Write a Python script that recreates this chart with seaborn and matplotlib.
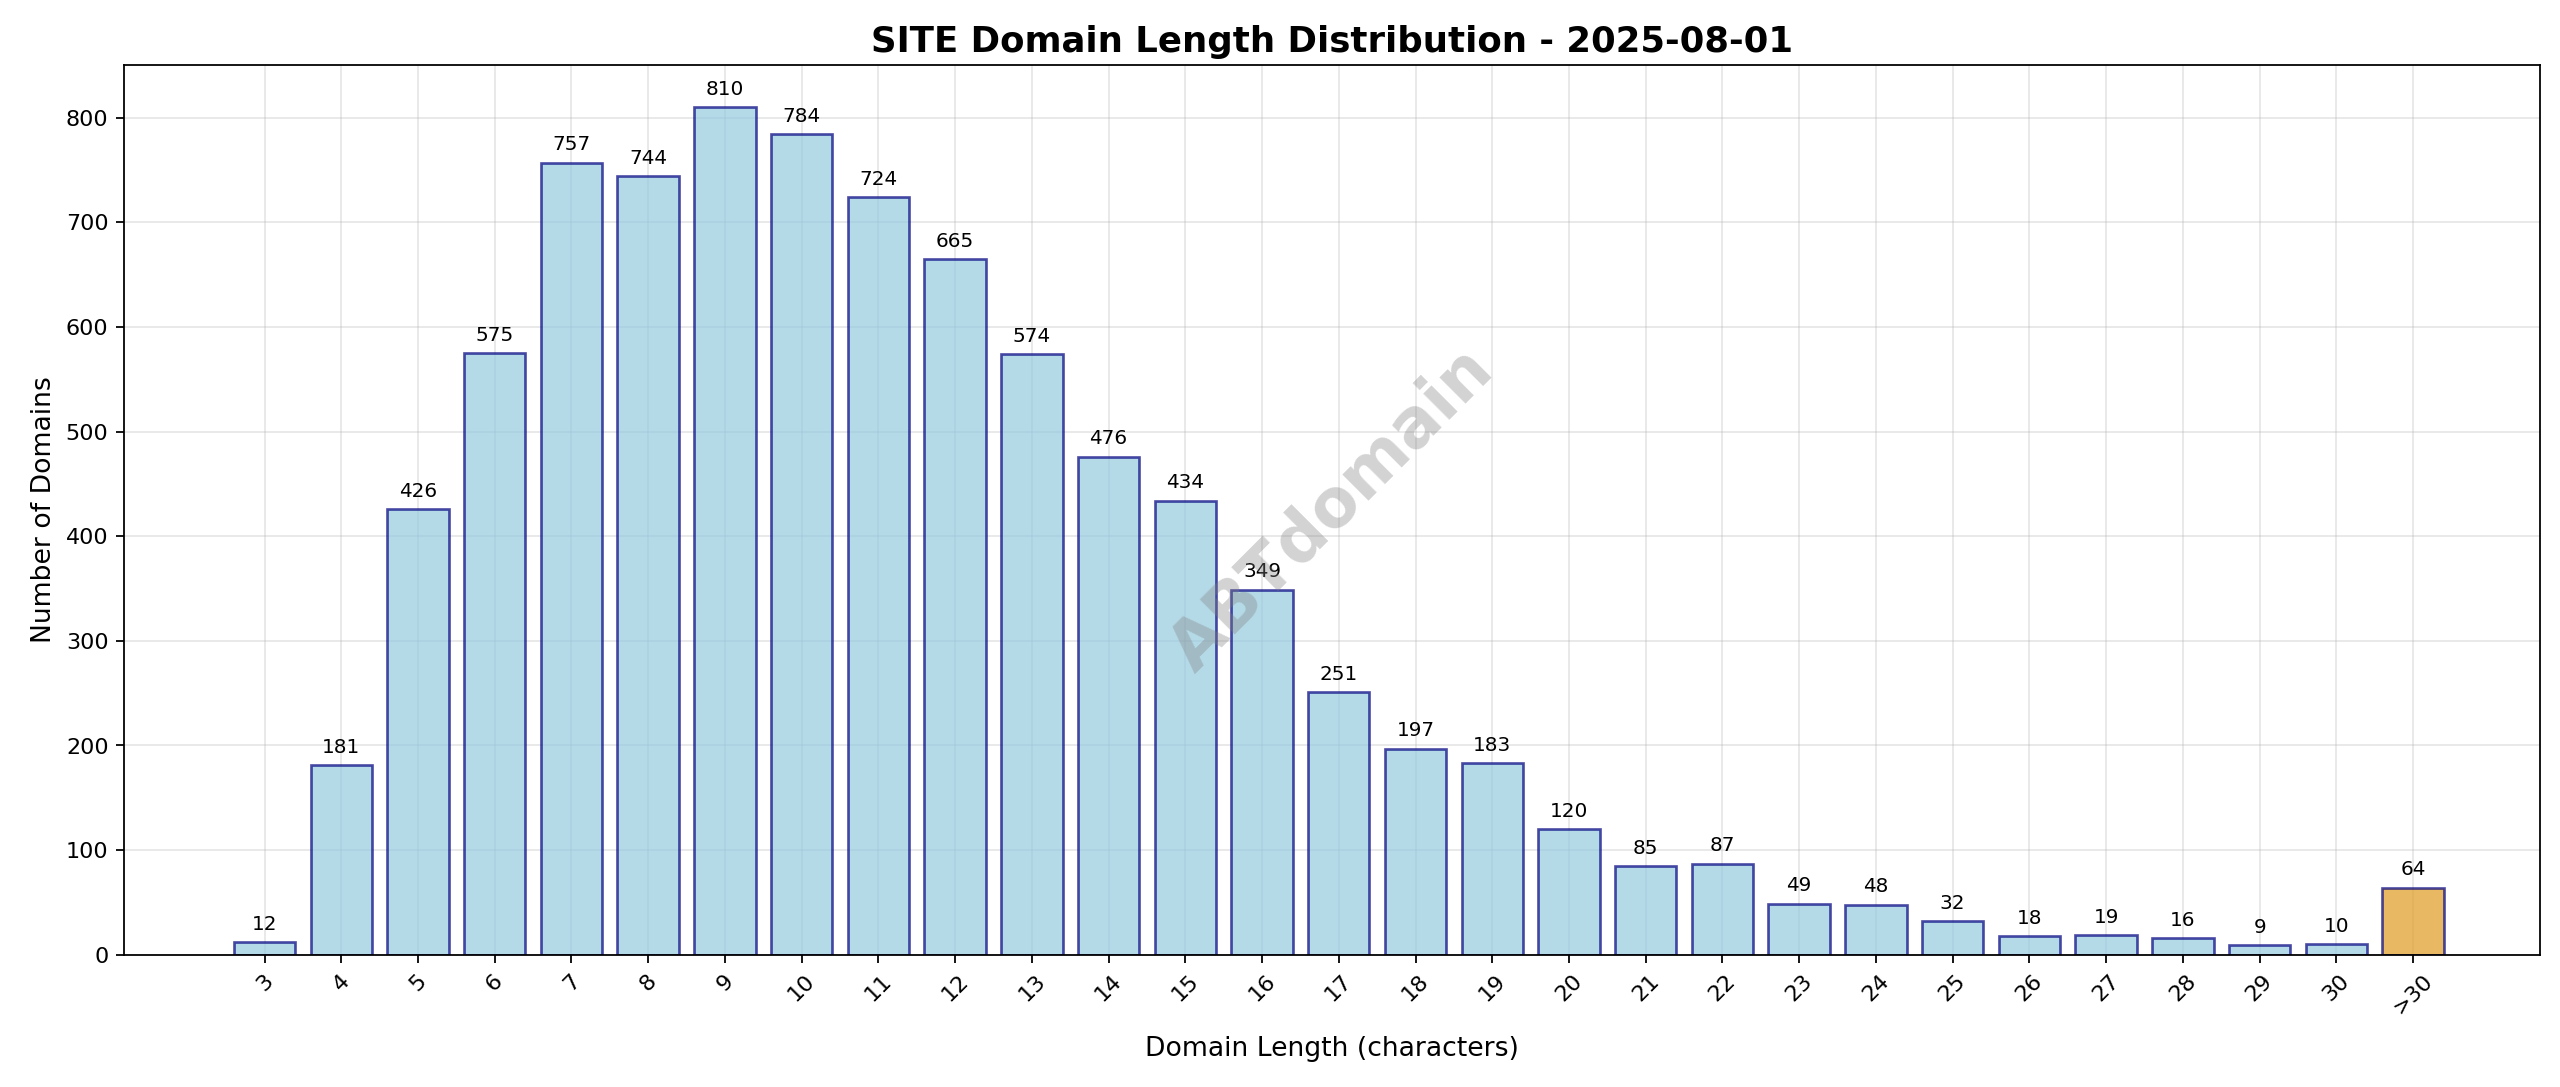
import matplotlib
matplotlib.use("Agg")
import matplotlib.pyplot as plt
import seaborn as sns
import pandas as pd

lengths = [str(i) for i in range(3, 31)] + [">30"]
counts = [12, 181, 426, 575, 757, 744, 810, 784, 724, 665, 574, 476, 434, 349,
          251, 197, 183, 120, 85, 87, 49, 48, 32, 18, 19, 16, 9, 10, 64]

df = pd.DataFrame({"length": lengths, "count": counts})
colors = ["skyblue"] * (len(lengths) - 1) + ["orange"]

W, H = 1568, 666  # layout measured in reference display units
fig = plt.figure(figsize=(16, 6.794), dpi=160)
ax = fig.add_axes([76 / W, 1 - 585 / H, 1480 / W, 545 / H])

sns.barplot(data=df, x="length", y="count", hue="length", palette=colors,
            legend=False, edgecolor="navy", linewidth=1.2, width=0.8, ax=ax)
for p in ax.patches:
    p.set_alpha(0.7)
    p.set_edgecolor((0, 0, 0.5, 0.7))

for i, v in enumerate(counts):
    ax.text(i, v + 8, str(v), ha="center", va="bottom", fontsize=9)

ax.set_xlim(-1.83, 29.66)
ax.set_ylim(0, 850)
ax.grid(True, alpha=0.3)
ax.set_axisbelow(True)
ax.tick_params(axis="x", rotation=45, labelsize=10)
ax.tick_params(axis="y", labelsize=10)
ax.set_xlabel("Domain Length (characters)", fontsize=12, labelpad=8)
ax.set_ylabel("Number of Domains", fontsize=12)
ax.set_title("SITE Domain Length Distribution - 2025-08-01", fontsize=16, fontweight="bold")

ax.text(0.5, 0.5, "ABTdomain", transform=ax.transAxes, fontsize=30, fontweight="bold",
        color="gray", alpha=0.35, rotation=45, ha="center", va="center")

fig.savefig("out.png", dpi=160, facecolor="white")
